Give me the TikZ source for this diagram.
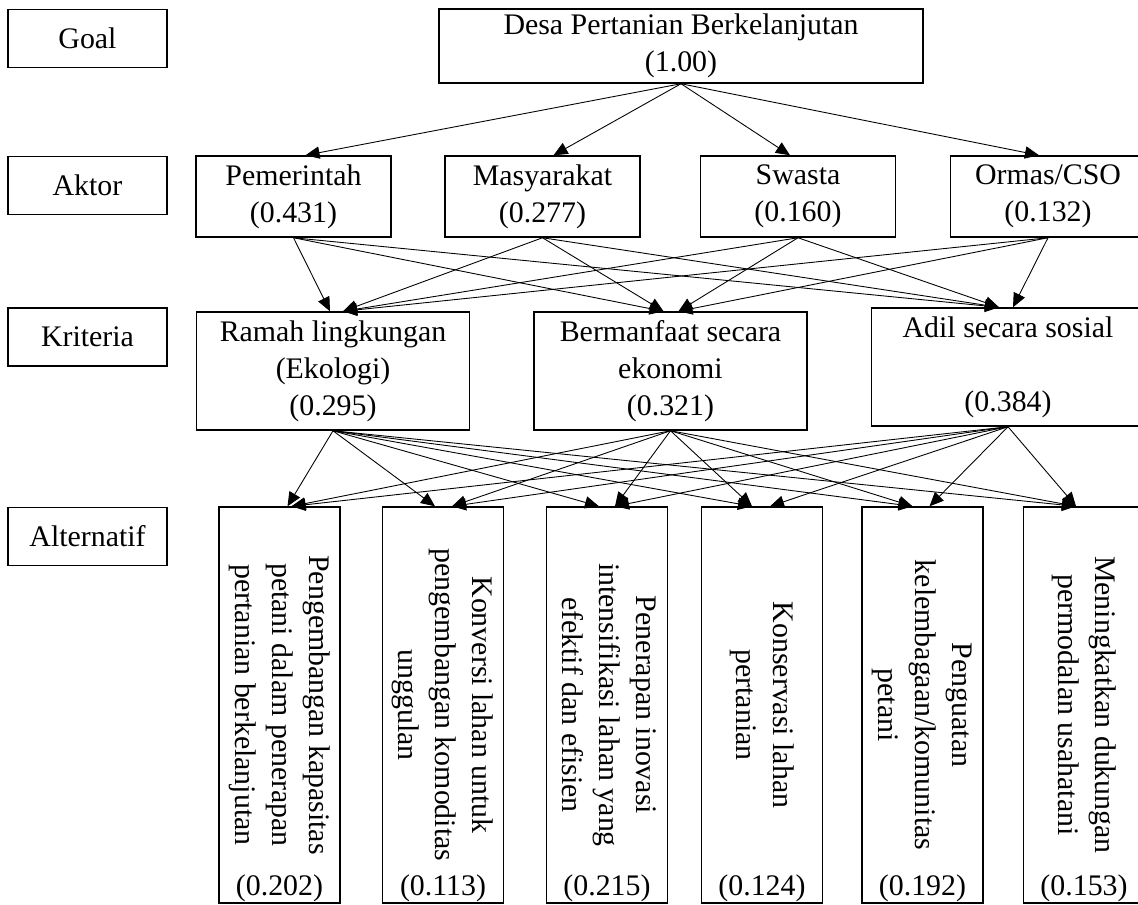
\documentclass[tikz,border=0pt]{standalone}
\usepackage{fontspec}
\setmainfont{Liberation Serif}
\usepackage{graphicx}
\usepackage{tikz}
\usetikzlibrary{arrows.meta,positioning}
\newcommand{\altlabel}[1]{\rotatebox{-90}{\begin{tabular}{@{}c@{}}#1\end{tabular}}}
\tikzset{
  levelbox/.style={
    rectangle, draw=black, line width=1.1pt,
    minimum width=3.18cm, minimum height=1.16cm,
    font=\fontsize{17}{21}\selectfont
  },
  ahpbox/.style={
    rectangle, draw=black, line width=0.85pt, align=center,
    inner sep=2pt, font=\fontsize{17}{21}\selectfont
  },
  goalbox/.style={ahpbox, minimum width=9.68cm, minimum height=1.48cm},
  aktorbox/.style={ahpbox, minimum width=3.9cm, minimum height=1.62cm},
  kritbox/.style={ahpbox, minimum width=5.47cm, minimum height=2.36cm},
  altbox/.style={ahpbox, minimum width=2.42cm, minimum height=7.92cm},
  weightlabel/.style={font=\fontsize{17}{21}\selectfont, inner sep=0pt},
  ahparrow/.style={-{Triangle[length=8pt,width=7pt]}, line width=0.5pt},
}
\begin{document}
\begin{tikzpicture}[x=0.02cm, y=-0.02cm]
  \useasboundingbox (0,0) rectangle (1138,904);
  \clip (0,0) rectangle (1138,904);

  % level labels on the left
  \node[levelbox] (lgoal) at (87.5,38.5) {Goal};
  \node[levelbox] (laktor) at (87.5,185.5) {Aktor};
  \node[levelbox] (lkrit) at (87.5,337) {Kriteria};
  \node[levelbox] (lalt) at (87.5,536.5) {Alternatif};

  % goal
  \node[goalbox] (goal) at (681,46) {Desa Pertanian Berkelanjutan\\(1.00)};

  % actors
  \node[aktorbox] (pem) at (293.5,196.5) {Pemerintah\\(0.431)};
  \node[aktorbox] (mas) at (542.5,196.5) {Masyarakat\\(0.277)};
  \node[aktorbox] (swa) at (798,196.5) {Swasta\\(0.160)};
  \node[aktorbox] (orm) at (1048,196.5) {Ormas/CSO\\(0.132)};

  % criteria
  \node[kritbox] (eko) at (333,371) {Ramah lingkungan\\(Ekologi)\\(0.295)};
  \node[kritbox] (eco) at (670.5,371) {Bermanfaat secara\\ekonomi\\(0.321)};
  \node[kritbox] (sos) at (1008,367) {Adil secara sosial\\[21pt](0.384)};

  % alternatives
  \node[altbox] (alt1) at (279.5,705) {\altlabel{Pengembangan kapasitas\\petani dalam penerapan\\pertanian berkelanjutan}};
  \node[altbox] (alt2) at (443,705) {\altlabel{Konversi lahan untuk\\pengembangan komoditas\\unggulan}};
  \node[altbox] (alt3) at (607,705) {\altlabel{Penerapan inovasi\\intensifikasi lahan yang\\efektif dan efisien}};
  \node[altbox] (alt4) at (762,705) {\altlabel{Konservasi lahan\\pertanian}};
  \node[altbox] (alt5) at (922.5,705) {\altlabel{Penguatan\\kelembagaan/komunitas\\petani}};
  \node[altbox] (alt6) at (1084,705) {\altlabel{Meningkatkan dukungan\\permodalan usahatani}};

  % weights of the alternatives
  \foreach \a/\w in {1/0.202,2/0.113,3/0.215,4/0.124,5/0.192,6/0.153}
    \node[weightlabel] (w\a) at ([yshift=0.3cm]alt\a.south) {(\w)};

  % goal to actors
  \foreach \t/\d in {pem/12,mas/11,swa/-8,orm/-9}
    \draw[ahparrow] (goal.south) -- ([xshift=\d*0.02cm]\t.north);

  % actors to criteria
  \foreach \s/\t/\d in {pem/eko/-3,mas/eko/10,swa/eko/10,orm/eko/10,
                        pem/eco/-7,mas/eco/-7,swa/eco/8,orm/eco/8,
                        pem/sos/-9,mas/sos/-9,swa/sos/-9,orm/sos/5}
    \draw[ahparrow] (\s.south) -- ([xshift=\d*0.02cm]\t.north);

  % criteria to alternatives
  \foreach \s/\t/\d in {eko/alt1/8,eco/alt1/12,sos/alt1/12,
                        eko/alt2/-8,eco/alt2/9,sos/alt2/9,
                        eko/alt3/-8,eco/alt3/8,sos/alt3/8,
                        eko/alt4/-10,eco/alt4/-10,sos/alt4/8,
                        eko/alt5/-10,eco/alt5/-10,sos/alt5/7,
                        eko/alt6/-8,eco/alt6/-8,sos/alt6/-8}
    \draw[ahparrow] (\s.south) -- ([xshift=\d*0.02cm]\t.north);
\end{tikzpicture}
\end{document}
